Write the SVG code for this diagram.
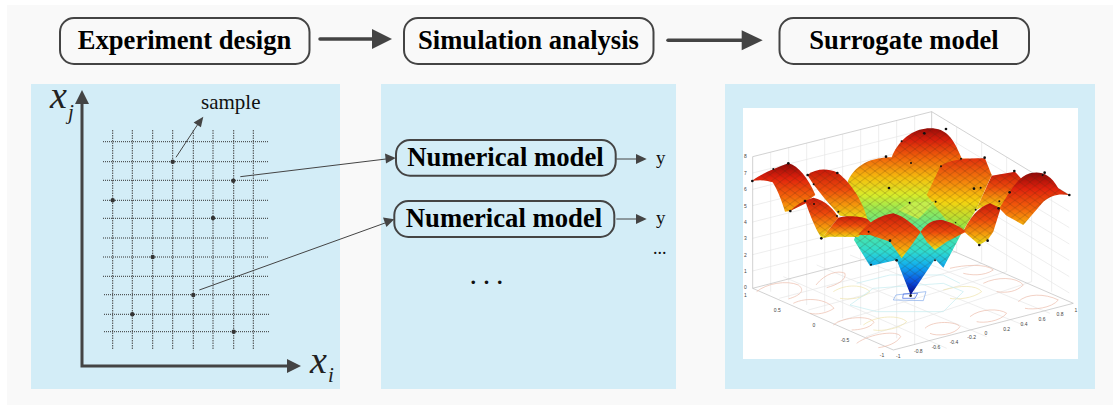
<svg xmlns="http://www.w3.org/2000/svg" width="1113" height="405" viewBox="0 0 1113 405">
<style>
.panel{fill:#d3edf7}
.step rect{fill:#f9f9f9;stroke:#444;stroke-width:2}
.step text,.model text{font-family:"Liberation Serif",serif;font-weight:bold;fill:#000;text-anchor:middle}
.step text{font-size:26.600px}
.model rect{fill:#d3edf7;stroke:#444;stroke-width:2}
.model text{font-size:26.700px}
.t{font-family:"Liberation Serif",serif;fill:#111}
.it{font-family:"Liberation Serif",serif;font-style:italic;fill:#222}
.gh{stroke:#333;stroke-width:1;stroke-dasharray:1 1;fill:none}
.gv{stroke:#444;stroke-width:1;stroke-dasharray:1.5 1;fill:none}
.dot{fill:#333}
.big{fill:none;stroke:#444;stroke-width:3.5;stroke-linecap:round}
.ax{fill:none;stroke:#444;stroke-width:3}
.thin{fill:none;stroke:#444;stroke-width:1}
.head{fill:#444}
.wall{stroke:#e6e6e6;stroke-width:2;fill:none}
.frame{stroke:#bbb;stroke-width:2;fill:none}
.tick{font-family:"Liberation Sans",sans-serif;font-size:15px;fill:#444;text-anchor:middle}
.cr{stroke:#ecb9a8;stroke-width:2;fill:none}
.cy{stroke:#eee3a8;stroke-width:2;fill:none}
.cc{stroke:#c3ecf0;stroke-width:2;fill:none}
.sd{fill:#111}
</style>
<defs>
<linearGradient id="gm" gradientUnits="userSpaceOnUse" x1="0" y1="100" x2="0" y2="600">
<stop offset="0" stop-color="#9a0c08"/><stop offset=".07" stop-color="#d81f0c"/><stop offset=".18" stop-color="#f2660a"/><stop offset=".3" stop-color="#f5c00e"/><stop offset=".4" stop-color="#d8ec2a"/><stop offset=".5" stop-color="#8ee85a"/><stop offset=".62" stop-color="#4ee6a0"/><stop offset=".74" stop-color="#2edcd0"/><stop offset=".83" stop-color="#10aaf0"/><stop offset=".92" stop-color="#0a50e0"/><stop offset="1" stop-color="#00008c"/>
</linearGradient>
<linearGradient id="gr" x1="0" y1="0" x2="0" y2="1">
<stop offset="0" stop-color="#8e0a08"/><stop offset=".3" stop-color="#e0200c"/><stop offset=".7" stop-color="#f4650a"/><stop offset="1" stop-color="#f7b00c"/>
</linearGradient>
<linearGradient id="gf" x1="0" y1="0" x2="0" y2="1">
<stop offset="0" stop-color="#c8180a"/><stop offset=".4" stop-color="#ee4a0b"/><stop offset=".75" stop-color="#f5a00c"/><stop offset="1" stop-color="#e9e41a"/>
</linearGradient>
<linearGradient id="go" x1="0" y1="0" x2="0" y2="1">
<stop offset="0" stop-color="#e2300c"/><stop offset=".3" stop-color="#f47c0b"/><stop offset=".6" stop-color="#f7d20e"/><stop offset="1" stop-color="#8fe84a"/>
</linearGradient>
<pattern id="mesh" patternUnits="userSpaceOnUse" width="30" height="22" patternTransform="translate(0 8)">
<path d="M0 11L15 0L30 11L15 22Z" fill="none" stroke="#3a2a10" stroke-opacity=".5" stroke-width="1.4"/>
</pattern>
<path id="sM" d="M355 255C380 205 430 187 485 187C510 125 560 100 600 100C650 100 670 130 695 190C730 192 760 195 785 240L700 405L640 518L615 492L542 600L500 495L420 513L372 435L385 400L330 350Z"/>
<path id="sK" d="M632 212C660 195 700 190 765 190L785 240L738 345L700 405L660 390L590 300Z"/>
<path id="sP" d="M505 345L540 322L615 320L565 372Z"/>
<path id="sB" d="M232 240C255 222 290 218 320 232C355 255 395 310 412 372L330 362L285 312L250 268Z"/>
<path id="sC" d="M65 258C95 235 130 222 175 205C205 212 235 250 256 300L228 320L180 348L165 350C155 315 140 280 128 262Q100 252 65 258Z"/>
<path id="sD" d="M180 348C200 328 225 315 250 308C285 315 315 345 325 368L275 430C255 400 240 360 228 325Z"/>
<path id="sE" d="M275 430L325 368C350 362 390 362 412 372L425 385L385 426L300 425Z"/>
<path id="sF" d="M385 420C410 385 450 360 490 355C525 365 550 390 572 410L545 450L515 490L480 440L420 420Z"/>
<path id="sG" d="M572 410C590 385 610 372 640 376C670 385 690 395 708 410L650 440L615 465L590 440Z"/>
<path id="sH" d="M700 408C720 370 745 335 780 325L812 340L790 410L773 435L748 450Z"/>
<path id="sI" d="M738 345L785 242L855 230L878 256L835 320L808 345L770 330Z"/>
<path id="sJ" d="M808 340C835 300 860 245 900 235C930 228 960 235 985 280L1018 300C985 295 965 300 940 320L880 390L830 362Z"/>
</defs>
<rect x="7" y="5" width="1106" height="400" fill="#f9f9f9"/>
<rect class="panel" x="31" y="84" width="309" height="305"/>
<rect class="panel" x="381" y="84" width="295" height="305"/>
<rect class="panel" x="725" y="84" width="370" height="305"/>

<g id="node-experiment" class="step"><rect x="60" y="18" width="249.500" height="46" rx="14"/><text x="184.500" y="49">Experiment design</text></g>
<g id="node-simulation" class="step"><rect x="404" y="18" width="249.500" height="46" rx="14"/><text x="528.500" y="49">Simulation analysis</text></g>
<g id="node-surrogate" class="step"><rect x="779.500" y="18" width="249.500" height="46" rx="14"/><text x="904" y="49">Surrogate model</text></g>

<g id="doe-plot">
<g class="gh">
<path d="M103 141.700H268M103 161.700H268M103 180.300H268M103 200.300H268M103 218.300H268M103 238H268M103 257H268M103 276.300H268M104 294.700H269M104 314.300H269M104 331.700H269"/>
</g>
<g class="gv">
<path d="M112.700 130V350M132.300 130V350M152.700 130V350M172.700 130V350M193.300 130V350M213 130V350M233.700 130V350M253.300 130V350"/>
</g>
<g class="dot">
<circle cx="172.700" cy="161.700" r="2.200"/><circle cx="233.300" cy="180.700" r="2.200"/><circle cx="112.700" cy="200.300" r="2.200"/><circle cx="213" cy="218" r="2.200"/><circle cx="152.700" cy="257" r="2.200"/><circle cx="193.300" cy="295" r="2.200"/><circle cx="132.300" cy="314.300" r="2.200"/><circle cx="233.700" cy="331.700" r="2.200"/>
</g>
<path class="ax" d="M82 104V366H288"/>
<path class="head" d="M82 90L89 104H75Z"/>
<path class="head" d="M301 366L287 373V359Z"/>
<text class="it" x="50" y="108" font-size="38">x</text>
<text class="it" x="68" y="119" font-size="21">j</text>
<text class="it" x="310" y="373" font-size="38">x</text>
<text class="it" x="328" y="382" font-size="21">i</text>
<text class="t" x="201" y="109" font-size="21">sample</text>
</g>

<g id="node-model-1" class="model"><rect x="396" y="140" width="219.700" height="35.700" rx="14"/><text x="505.500" y="166">Numerical model</text></g>
<g id="node-model-2" class="model"><rect x="394.300" y="201" width="220" height="36" rx="14"/><text x="504" y="227">Numerical model</text></g>
<text class="t" x="656" y="164" font-size="19">y</text>
<text class="t" x="656" y="224" font-size="19">y</text>
<text class="t" x="653" y="254" font-size="18">...</text>
<text class="t" x="469.500" y="284" font-size="30" letter-spacing="5.800">...</text>

<g id="surface-plot">
<rect x="743" y="108" width="335" height="251" fill="#fff"/>
<g transform="translate(730 95) scale(.3333)">
<g class="wall">
<path d="M68 234L605 99M68 283L605 148M68 332L605 197M68 381L605 246M68 430L605 295M68 479L605 344M68 528L605 393"/>
<path d="M605 99L1018 349M605 148L1018 398M605 197L1018 447M605 246L1018 496M605 295L1018 545M605 344L1018 594"/>
<path d="M122 172V590M176 158V610M230 145V630M284 131V650M338 118V670M392 104V690M446 91V710M500 77V730M554 63V750"/>
<path d="M680 96V470M755 141V500M830 187V530M905 232V560M965 268V590"/>
<path d="M148 610L680 470M235 645L755 505M322 680L830 530M408 725L905 560"/>
<path d="M160 545L650 760M260 510L770 725M360 480L880 690M470 455L960 655"/>
</g>
<path class="frame" d="M68 185L605 50L1018 300"/>
<path class="frame" d="M68 185V580L490 765L1030 625L605 440L68 580"/>
<path class="frame" d="M605 50V440"/>
<g class="cr">
<path d="M80 590C110 565 170 555 205 570C225 585 215 600 175 612"/>
<path d="M258 570C285 535 325 525 345 535C350 555 320 570 290 578"/>
<path d="M190 625C230 605 290 612 312 640C290 655 260 660 240 655"/>
<path d="M310 690C340 665 420 660 432 682C420 700 385 705 365 705"/>
<path d="M380 745C420 715 505 705 512 725C500 745 470 755 445 758"/>
<path d="M760 565C800 545 860 545 880 570C860 590 830 595 800 590"/>
<path d="M865 620C890 595 945 595 985 615C965 640 910 645 885 640"/>
<path d="M720 665C750 640 810 640 830 655C810 680 760 685 740 680"/>
<path d="M585 700C610 675 680 680 690 695C675 720 620 725 600 715"/>
<path d="M660 520C700 510 770 505 790 525C760 545 720 540 700 535"/>
</g>
<g class="cy">
<path d="M310 590C350 565 400 570 420 590C400 610 360 615 330 610"/>
<path d="M400 690C440 660 510 660 530 680C510 700 460 710 430 705"/>
<path d="M640 585C690 570 740 570 755 590C730 610 680 615 660 610"/>
</g>
<g class="cc">
<path d="M360 630L430 580L640 565L700 590L640 650L440 650Z"/>
<path d="M380 565L480 540L640 540L690 565"/>
</g>
<path d="M498 600L588 590L580 617L490 615Z" fill="none" stroke="#7fa8ea" stroke-width="2"/>
<path d="M520 597L563 595L555 610L518 610Z" fill="none" stroke="#3a5fe0" stroke-width="2"/>
<use href="#sM" fill="url(#gm)"/><use href="#sM" fill="url(#mesh)"/>
<use href="#sK" fill="url(#go)"/><use href="#sK" fill="url(#mesh)"/>
<use href="#sP" fill="#c4ee4c"/><use href="#sP" fill="url(#mesh)"/>
<use href="#sB" fill="url(#gf)"/><use href="#sB" fill="url(#mesh)"/>
<use href="#sC" fill="url(#gr)"/><use href="#sC" fill="url(#mesh)"/>
<use href="#sD" fill="url(#gf)"/><use href="#sD" fill="url(#mesh)"/>
<use href="#sE" fill="url(#gf)"/><use href="#sE" fill="url(#mesh)"/>
<use href="#sI" fill="url(#gf)"/><use href="#sI" fill="url(#mesh)"/>
<use href="#sH" fill="url(#gf)"/><use href="#sH" fill="url(#mesh)"/>
<use href="#sJ" fill="url(#gr)"/><use href="#sJ" fill="url(#mesh)"/>
<use href="#sG" fill="url(#gf)"/><use href="#sG" fill="url(#mesh)"/>
<use href="#sF" fill="url(#gf)"/><use href="#sF" fill="url(#mesh)"/>
<g class="sd">
<circle cx="67" cy="258" r="4"/><circle cx="175" cy="205" r="4"/><circle cx="130" cy="222" r="3"/><circle cx="181" cy="348" r="4"/><circle cx="233" cy="240" r="4"/><circle cx="251" cy="268" r="3"/><circle cx="225" cy="318" r="4"/><circle cx="252" cy="327" r="3"/><circle cx="322" cy="234" r="4"/><circle cx="325" cy="350" r="3"/><circle cx="321" cy="363" r="3"/><circle cx="274" cy="430" r="4"/><circle cx="416" cy="410" r="3"/><circle cx="480" cy="437" r="4"/><circle cx="500" cy="496" r="4"/><circle cx="423" cy="509" r="3"/><circle cx="615" cy="496" r="3"/><circle cx="542" cy="602" r="4"/><circle cx="468" cy="185" r="4"/><circle cx="543" cy="204" r="3"/><circle cx="477" cy="279" r="4"/><circle cx="583" cy="115" r="4"/><circle cx="648" cy="102" r="4"/><circle cx="515" cy="139" r="3"/><circle cx="693" cy="191" r="3"/><circle cx="764" cy="188" r="4"/><circle cx="633" cy="214" r="3"/><circle cx="539" cy="323" r="3"/><circle cx="617" cy="320" r="3"/><circle cx="732" cy="281" r="4"/><circle cx="752" cy="278" r="3"/><circle cx="853" cy="228" r="4"/><circle cx="839" cy="292" r="4"/><circle cx="808" cy="319" r="3"/><circle cx="806" cy="340" r="4"/><circle cx="737" cy="344" r="3"/><circle cx="944" cy="233" r="4"/><circle cx="938" cy="240" r="3"/><circle cx="1018" cy="300" r="4"/><circle cx="748" cy="450" r="4"/><circle cx="773" cy="437" r="4"/><circle cx="677" cy="383" r="2"/>
</g>
<g class="tick">
<text x="46" y="190">8</text><text x="46" y="239">7</text><text x="46" y="289">6</text><text x="46" y="338">5</text><text x="46" y="387">4</text><text x="46" y="436">3</text><text x="46" y="485">2</text><text x="46" y="534">1</text><text x="46" y="581">0</text>
<text x="46" y="606">1</text><text x="142" y="652">0.5</text><text x="252" y="697">0</text><text x="345" y="741">-0.5</text><text x="456" y="785">-1</text>
<text x="505" y="788">-1</text><text x="565" y="774">-0.8</text><text x="618" y="762">-0.6</text><text x="672" y="747">-0.4</text><text x="725" y="733">-0.2</text><text x="768" y="719">0</text><text x="830" y="707">0.2</text><text x="882" y="692">0.4</text><text x="936" y="678">0.6</text><text x="990" y="664">0.8</text><text x="1038" y="651">1</text>
</g>
</g>
</g>

<g id="connectors">
<path class="big" d="M320 39H375"/><path class="head" d="M392 39L372 29V49Z"/>
<path class="big" d="M668 40.300H745"/><path class="head" d="M762.700 40.300L741.700 30.300V50.300Z"/>
<path class="thin" d="M176 157.300L198 124"/><path class="head" d="M203.300 116.700L200.900 127.200L193.600 122.400Z"/>
<path class="thin" d="M240.300 176.700L386 159"/><path class="head" d="M395.700 158L385 153.500L386 163.500Z"/>
<path class="thin" d="M199.300 290L385 223"/><path class="head" d="M394.300 219.300L383 217.600L386.400 227Z"/>
<path class="thin" d="M616.300 159H637"/><path class="head" d="M646.700 159L636 154V164Z"/>
<path class="thin" d="M616.300 219H637"/><path class="head" d="M646.700 219L636 214V224Z"/>
</g>
</svg>
